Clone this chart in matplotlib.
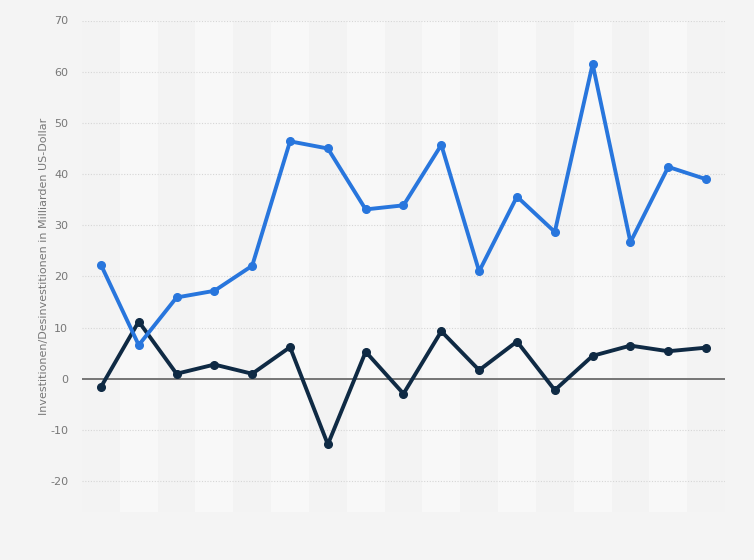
import numpy as np
from matplotlib import pyplot as plt

# Werte (Milliarden US-Dollar)
investitionen = [22.3, 6.6, 15.9, 17.2, 22.1, 46.4, 45.0, 33.1, 33.9, 45.7,
                 21.0, 35.6, 28.7, 61.5, 26.7, 41.4, 39.0]
desinvestitionen = [-1.6, 11.2, 1.0, 2.8, 1.0, 6.2, -12.8, 5.3, -2.9, 9.3,
                    1.7, 7.3, -2.2, 4.5, 6.5, 5.4, 6.1]
y_ticks = [-20, -10, 0, 10, 20, 30, 40, 50, 60, 70]

x = np.arange(len(investitionen))

fig = plt.figure(figsize=(7.54, 5.6), dpi=100)
fig.patch.set_facecolor("#f4f4f4")
ax = fig.add_axes([82 / 754, 1 - 512 / 560, 643 / 754, (512 - 20.5) / 560])
ax.set_facecolor("#f3f3f3")

# abwechselnde Spalten
for i in x:
    if i % 2 == 1:
        ax.axvspan(i - 0.5, i + 0.5, color="#f8f8f8", lw=0, zorder=0)

for t in y_ticks:
    if t != 0:
        ax.axhline(t, color="#d6d6d6", lw=0.8, ls=(0, (1, 1.5)), zorder=1)
ax.axhline(0, color="#6b6b6b", lw=1.3, zorder=2)

ax.plot(x, investitionen, color="#2876dd", lw=2.8, marker="o", ms=5.5,
        zorder=4, solid_joinstyle="round")
ax.plot(x, desinvestitionen, color="#0f2a44", lw=2.8, marker="o", ms=5.5,
        zorder=3, solid_joinstyle="round")

ax.set_xlim(-0.5, len(x) - 0.5)
ax.set_ylim(-26.0, 70)
ax.set_yticks(y_ticks)
ax.set_yticklabels([str(t) for t in y_ticks], color="#777777", fontsize=8)
ax.set_xticks([])
ax.tick_params(axis="y", length=0, pad=10)
for s in ax.spines.values():
    s.set_visible(False)

ax.set_ylabel("Investitionen/Desinvestitionen in Milliarden US-Dollar",
              color="#777777", fontsize=8, labelpad=1)

fig.savefig("out.png", dpi=100, facecolor=fig.get_facecolor())
